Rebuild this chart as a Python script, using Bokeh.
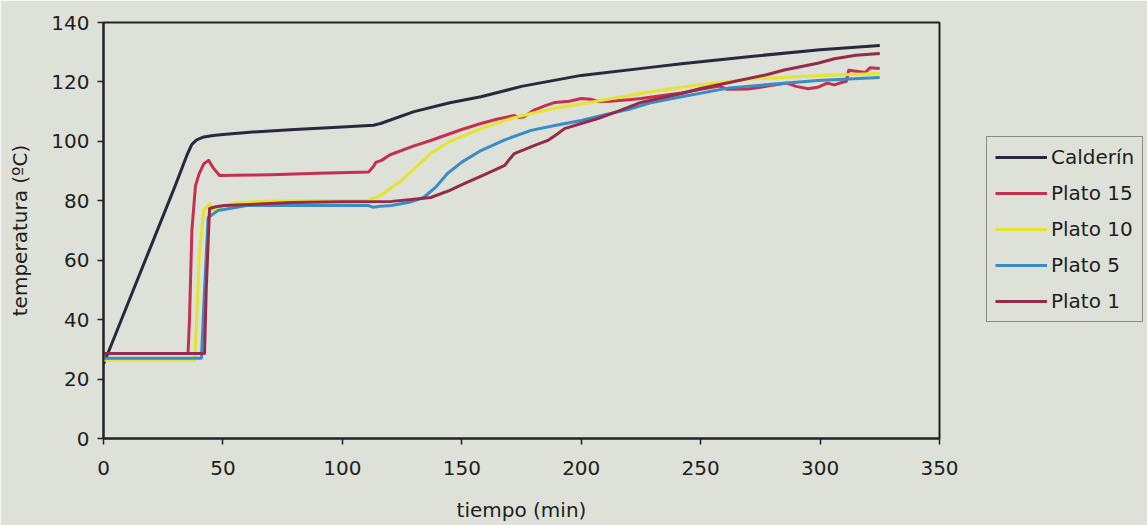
from bokeh.plotting import figure
from bokeh.models import Range1d, Legend, LegendItem, FixedTicker
from bokeh.embed import file_html
from bokeh.resources import INLINE

series_names = ["Calderín", "Plato 15", "Plato 10", "Plato 5", "Plato 1"]

t_calderin = [0, 5, 10, 20, 30, 35, 37, 39, 42, 46, 50, 60, 80, 100, 113, 116, 130, 145, 158,
              175, 200, 229, 242, 270, 300, 325]
T_calderin = [25, 35, 45, 65, 85, 95.5, 99, 100.5, 101.5, 102, 102.3, 103, 104, 104.8, 105.4, 106,
              110, 113, 115, 118.5, 122.2, 124.9, 126.1, 128.5, 130.8, 132.3]

t_plato15 = [0, 35.4, 36, 37, 38.5, 40, 42, 44, 46, 48.6, 55, 70, 90, 111, 113, 114, 116.4, 120,
             130, 137, 150, 158, 165, 172, 174, 176, 180, 185, 189, 195, 200, 204, 207, 212, 220,
             225, 242, 250, 258, 261, 270, 278, 286, 290, 295, 299, 303, 306, 309, 311, 312, 316,
             319, 321, 325]
T_plato15 = [28.6, 28.6, 40, 70, 85, 89, 92.5, 93.6, 91, 88.5, 88.6, 88.8, 89.3, 89.7, 91.5, 92.9,
             93.6, 95.5, 98.5, 100.3, 104, 106, 107.5, 108.7, 108, 108.3, 110.4, 112, 113.1, 113.5,
             114.4, 114.2, 113.4, 113.5, 114, 114.4, 116.3, 117.5, 118.6, 117.5, 117.6, 118.6,
             119.6, 118.5, 117.7, 118.2, 119.6, 119, 119.8, 120.2, 123.9, 123.5, 123.2, 124.8,
             124.5]

t_plato10 = [0, 38.2, 39, 40, 41.9, 44.4, 46, 48, 55, 65, 90, 111, 116, 125, 137, 145, 158, 170,
             179, 190, 200, 210, 221, 230, 247, 271, 300, 325]
T_plato10 = [26.3, 26.3, 40, 60, 76.7, 79.1, 76.8, 77.5, 79.2, 79.8, 80.1, 80.2, 81.8, 87, 95.9,
             100, 104.3, 107.5, 109.4, 111.3, 112.6, 114, 115.5, 116.8, 118.8, 121, 122.2, 122.8]

t_plato5 = [0, 41, 42, 43.8, 48, 60, 111, 113, 116, 120.6, 128, 134, 139, 144, 150, 158, 168, 179,
            190, 200, 210, 221, 229, 242, 262, 299, 325]
T_plato5 = [27, 27, 45, 74.4, 76.7, 78.4, 78.4, 77.8, 78.2, 78.4, 79.5, 81.1, 84.5, 89.2, 93, 96.9,
            100.5, 103.7, 105.5, 107, 109, 111, 113, 115, 118, 120.5, 121.5]

t_plato1 = [0, 42.3, 43, 44.4, 47, 50.6, 78.7, 100, 120.6, 130, 137, 145, 151, 160, 168, 170, 172,
            180, 186, 190, 193, 200, 207, 215, 225, 242, 250, 262, 278, 285, 299, 306, 315, 325]
T_plato1 = [28.6, 28.6, 50, 77.4, 78, 78.4, 79.4, 79.7, 79.8, 80.5, 81.1, 83.5, 85.8, 89, 91.9, 94,
            95.9, 98.5, 100.3, 102.5, 104.3, 106, 107.7, 110, 113.1, 116.1, 117.8, 119.8, 122.5,
            124, 126.3, 127.8, 129, 129.6]

x_ticks = [0, 50, 100, 150, 200, 250, 300, 350]
y_ticks = [0, 20, 40, 60, 80, 100, 120, 140]

colors = ["#2c2640", "#c4304e", "#e4e431", "#3a8cc6", "#962a4a"]
bg = "#dde1d7"
FONT = "DejaVu Sans"

p = figure(frame_width=836, frame_height=416, output_backend="svg", toolbar_location=None,
           x_range=Range1d(0, 350), y_range=Range1d(0, 140),
           min_border_left=103, min_border_right=0, min_border_top=22, min_border_bottom=87)
p.background_fill_color = bg
p.border_fill_color = bg
p.outline_line_color = "#222222"
p.outline_line_width = 2
p.xgrid.visible = False
p.ygrid.visible = False

for ax in (p.xaxis[0], p.yaxis[0]):
    ax.axis_line_color = "#222222"
    ax.axis_line_width = 2
    ax.major_tick_line_color = "#222222"
    ax.major_tick_line_width = 1.5
    ax.major_tick_out = 6
    ax.major_tick_in = 0
    ax.minor_tick_out = 0
    ax.minor_tick_in = 0
    ax.major_label_text_font = FONT
    ax.major_label_text_font_size = "20px"
    ax.major_label_text_color = "#1e1e1e"
    ax.axis_label_text_font = FONT
    ax.axis_label_text_font_size = "20px"
    ax.axis_label_text_font_style = "normal"
    ax.axis_label_text_color = "#1e1e1e"

p.xaxis.ticker = FixedTicker(ticks=x_ticks)
p.yaxis.ticker = FixedTicker(ticks=y_ticks)
p.xaxis.axis_label = "tiempo (min)"
p.yaxis.axis_label = "temperatura (ºC)"
p.xaxis.major_label_standoff = 16
p.yaxis.major_label_standoff = 8
p.xaxis.axis_label_standoff = 20
p.yaxis.axis_label_standoff = 16

data = [(t_calderin, T_calderin), (t_plato15, T_plato15), (t_plato10, T_plato10),
        (t_plato5, T_plato5), (t_plato1, T_plato1)]
items = []
for (tx, ty), c, name in zip(data, colors, series_names):
    r = p.line(tx, ty, line_color=c, line_width=3, line_join="round")
    items.append(LegendItem(label=name, renderers=[r]))

legend = Legend(items=items, location=(47, 116))
legend.background_fill_color = bg
legend.background_fill_alpha = 1
legend.border_line_color = "#333333"
legend.border_line_width = 1.5
legend.label_text_font = FONT
legend.label_text_font_size = "20px"
legend.label_text_color = "#1e1e1e"
legend.glyph_width = 52
legend.glyph_height = 20
legend.label_height = 20
legend.spacing = 12
legend.padding = 8
legend.margin = 0
legend.label_standoff = 4
p.add_layout(legend, "right")

open("out.html", "w").write(file_html(p, INLINE))
